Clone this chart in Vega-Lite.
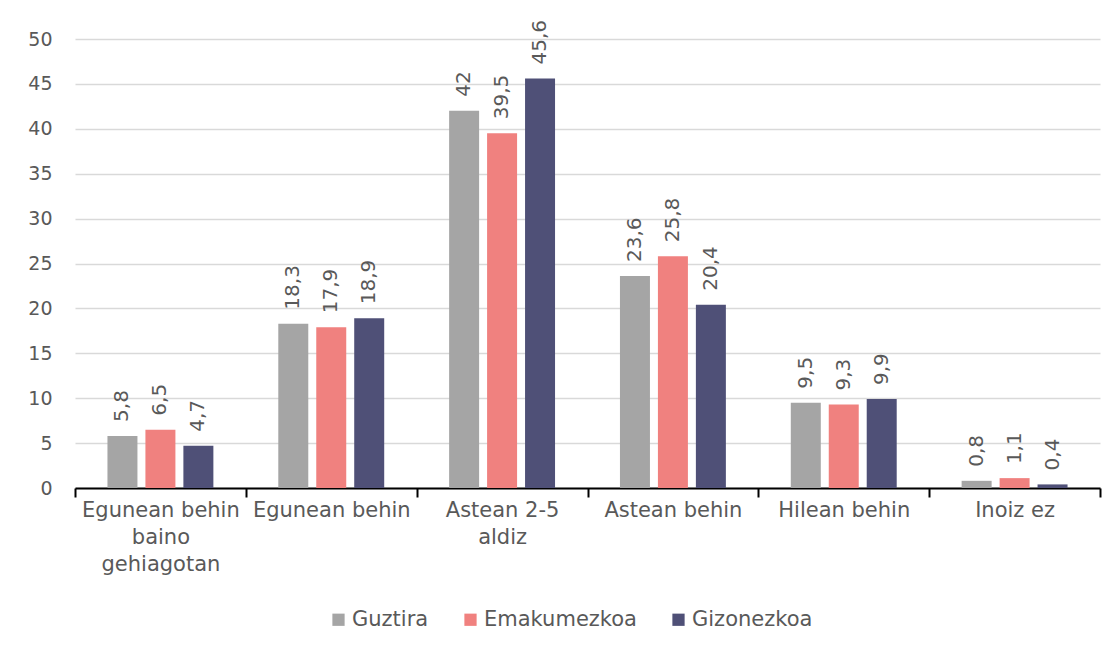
{
  "$schema": "https://vega.github.io/schema/vega-lite/v6.json",
  "width": 1025,
  "height": 449,
  "autosize": {"type": "none"},
  "padding": {"left": 75, "top": 39, "right": 20, "bottom": 169},
  "background": "white",
  "data": {
    "values": [
      {"cat": "Egunean behin baino gehiagotan", "serie": "Guztira", "v": 5.8},
      {"cat": "Egunean behin baino gehiagotan", "serie": "Emakumezkoa", "v": 6.5},
      {"cat": "Egunean behin baino gehiagotan", "serie": "Gizonezkoa", "v": 4.7},
      {"cat": "Egunean behin", "serie": "Guztira", "v": 18.3},
      {"cat": "Egunean behin", "serie": "Emakumezkoa", "v": 17.9},
      {"cat": "Egunean behin", "serie": "Gizonezkoa", "v": 18.9},
      {"cat": "Astean 2-5 aldiz", "serie": "Guztira", "v": 42},
      {"cat": "Astean 2-5 aldiz", "serie": "Emakumezkoa", "v": 39.5},
      {"cat": "Astean 2-5 aldiz", "serie": "Gizonezkoa", "v": 45.6},
      {"cat": "Astean behin", "serie": "Guztira", "v": 23.6},
      {"cat": "Astean behin", "serie": "Emakumezkoa", "v": 25.8},
      {"cat": "Astean behin", "serie": "Gizonezkoa", "v": 20.4},
      {"cat": "Hilean behin", "serie": "Guztira", "v": 9.5},
      {"cat": "Hilean behin", "serie": "Emakumezkoa", "v": 9.3},
      {"cat": "Hilean behin", "serie": "Gizonezkoa", "v": 9.9},
      {"cat": "Inoiz ez", "serie": "Guztira", "v": 0.8},
      {"cat": "Inoiz ez", "serie": "Emakumezkoa", "v": 1.1},
      {"cat": "Inoiz ez", "serie": "Gizonezkoa", "v": 0.4}
    ]
  },
  "encoding": {
    "x": {
      "field": "cat",
      "type": "nominal",
      "sort": null,
      "scale": {"paddingInner": 0, "paddingOuter": 0},
      "axis": {
        "title": null,
        "labelAngle": 0,
        "tickBand": "extent",
        "grid": false,
        "domainColor": "#000000",
        "domainWidth": 2,
        "tickColor": "#000000",
        "tickWidth": 2,
        "tickSize": 9,
        "labelPadding": 2,
        "labelFontSize": 21,
        "labelLineHeight": 27,
        "labelColor": "#595959",
        "labelBaseline": "top",
        "labelExpr": "datum.value == 'Egunean behin baino gehiagotan' ? ['Egunean behin', 'baino', 'gehiagotan'] : datum.value == 'Astean 2-5 aldiz' ? ['Astean 2-5', 'aldiz'] : datum.value"
      }
    },
    "xOffset": {
      "field": "serie",
      "type": "nominal",
      "sort": ["Guztira", "Emakumezkoa", "Gizonezkoa"],
      "scale": {"paddingInner": 0.21, "paddingOuter": 0.855}
    },
    "y": {
      "field": "v",
      "type": "quantitative",
      "scale": {"domain": [0, 50]},
      "axis": {
        "title": null,
        "values": [0, 5, 10, 15, 20, 25, 30, 35, 40, 45, 50],
        "domain": false,
        "ticks": false,
        "labelPadding": 23,
        "labelFontSize": 19,
        "labelColor": "#595959",
        "gridColor": "#D9D9D9",
        "gridWidth": 1.5
      }
    }
  },
  "layer": [
    {
      "mark": {"type": "bar"},
      "encoding": {
        "color": {
          "field": "serie",
          "type": "nominal",
          "sort": ["Guztira", "Emakumezkoa", "Gizonezkoa"],
          "scale": {"domain": ["Guztira", "Emakumezkoa", "Gizonezkoa"], "range": ["#A5A5A5", "#F0817F", "#4F5077"]},
          "legend": {
            "title": null,
            "orient": "none",
            "direction": "horizontal",
            "legendX": 253,
            "legendY": 570,
            "symbolType": "square",
            "symbolSize": 150,
            "symbolStrokeWidth": 0,
            "labelFontSize": 21,
            "labelColor": "#595959",
            "labelOffset": 3,
            "columnPadding": 31,
            "symbolOffset": 0
          }
        }
      }
    },
    {
      "mark": {"type": "text", "angle": 270, "align": "left", "baseline": "middle", "dx": 14, "fontSize": 20, "color": "#595959"},
      "encoding": {
        "text": {"field": "v", "type": "quantitative", "format": ".1~f"}
      }
    }
  ],
  "config": {
    "font": "DejaVu Sans",
    "view": {"stroke": null},
    "locale": {"number": {"decimal": ",", "thousands": ".", "grouping": [3], "currency": ["", " €"]}}
  }
}
